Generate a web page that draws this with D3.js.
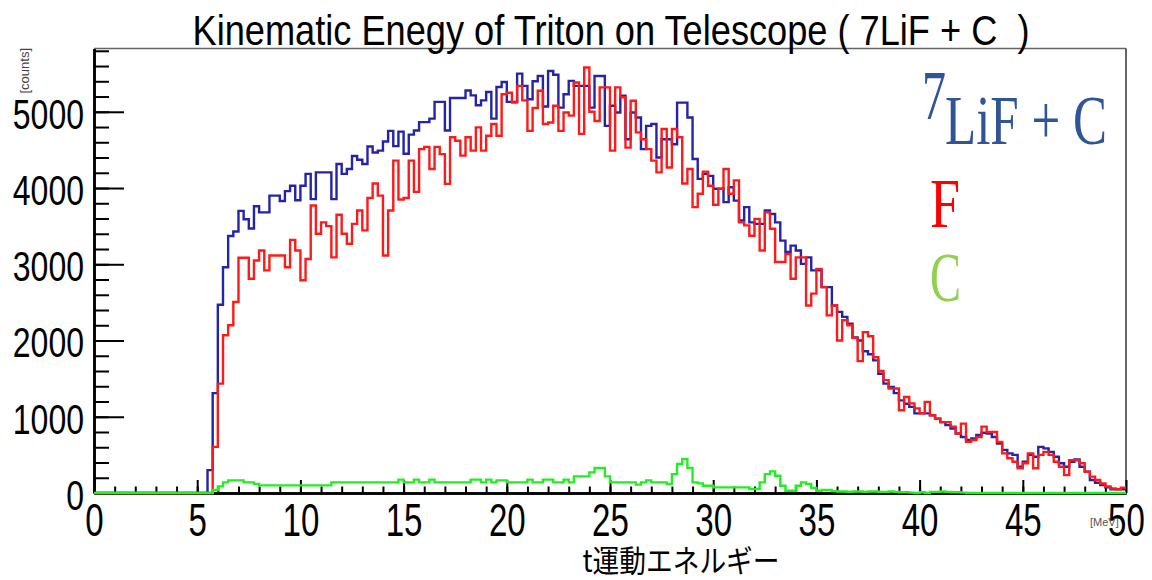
<!DOCTYPE html>
<html>
<head>
<meta charset="utf-8">
<script src="https://cdn.jsdelivr.net/npm/d3@7"></script>
<style>
  body { margin: 0; background: #fff; }
  svg { display: block; }
</style>
</head>
<body>
<div id="chart"></div>
<script>
(function () {

    // histogram binning: 200 bins of 0.25 MeV from 0 to 50
    var binLow = 0, binWidth = 0.25;

    // 7LiF + C (total), counts per bin
    var totalCounts = [
        0, 0, 0, 0, 0, 0, 0, 0, 0, 0, 0, 0, 0, 0, 0, 0, 0, 0, 0, 0,
        0, 0, 300, 1310, 2470, 2960, 3370, 3430, 3700, 3590, 3470, 3760, 3680, 3680, 3900, 3900, 3830, 3960, 4030, 3840,
        4030, 4185, 3855, 4205, 4205, 4205, 3855, 4315, 4185, 4250, 4420, 4370, 4315, 4545, 4465, 4490, 4610, 4750, 4550, 4740,
        4450, 4700, 4755, 4865, 4865, 4910, 5130, 5130, 4755, 5180, 5180, 5180, 5280, 5215, 5085, 5150, 5260, 4910, 5325, 5390,
        5130, 5130, 5500, 5340, 5165, 5400, 5470, 5070, 5535, 5485, 5055, 5230, 5405, 5340, 5340, 5340, 5055, 5470, 5470, 4815,
        5080, 4990, 5210, 4640, 4990, 4925, 4510, 4815, 4840, 4400, 4640, 4640, 4575, 5120, 5120, 4925, 4380, 4120, 4185, 4160,
        3990, 3990, 3815, 4010, 3835, 3575, 3750, 3550, 3530, 3530, 3705, 3660, 3550, 3310, 3160, 3245, 3180, 3005, 3090, 2920,
        2920, 2700, 2700, 2460, 2375, 2310, 2220, 2040, 2000, 1860, 1820, 1740, 1565, 1435, 1390, 1310, 1215, 1170, 1130, 1045,
        1045, 1045, 1020, 975, 930, 890, 845, 780, 735, 695, 715, 760, 790, 780, 735, 650, 565, 520, 500, 345,
        410, 500, 475, 605, 585, 540, 475, 390, 345, 410, 440, 345, 280, 170, 135, 105, 75, 50, 50, 50
    ];

    // F
    var fCounts = [
        0, 0, 0, 0, 0, 0, 0, 0, 0, 0, 0, 0, 0, 0, 0, 0, 0, 0, 0, 0,
        0, 0, 0, 605, 1435, 2070, 2200, 2505, 3085, 3085, 2810, 3050, 3180, 2920, 3115, 3115, 3115, 2960, 3320, 3180,
        2790, 3070, 3770, 3400, 3550, 3500, 3090, 3650, 3400, 3270, 3530, 3705, 3445, 3870, 4060, 3900, 3115, 3705, 4360, 3850,
        3870, 4360, 3950, 4510, 4540, 4250, 4540, 4445, 4055, 4665, 4620, 4425, 4665, 4490, 4795, 4490, 4685, 4840, 4685, 5230,
        5250, 5120, 5340, 5150, 4750, 5050, 5275, 4840, 4860, 5080, 4750, 4990, 4950, 5385, 4710, 5580, 5000, 4880, 5320, 5320,
        4490, 5320, 5190, 4530, 5145, 4730, 4640, 4510, 4360, 4205, 4775, 4270, 4775, 4665, 4060, 4250, 3750, 3925, 4215, 4030,
        3780, 3990, 4250, 3925, 4100, 3550, 3510, 3375, 3595, 3180, 3680, 3465, 3030, 3030, 3135, 2810, 3090, 3090, 2460, 2615,
        2940, 2700, 2330, 2460, 2000, 2265, 2200, 2035, 1730, 2110, 2055, 1780, 1600, 1480, 1370, 1370, 1085, 1260, 1175, 1110,
        1045, 1195, 1020, 975, 930, 930, 870, 780, 910, 670, 695, 735, 870, 800, 800, 670, 520, 455, 410, 325,
        390, 520, 325, 500, 540, 500, 410, 345, 235, 430, 430, 390, 280, 215, 170, 125, 85, 60, 50, 70
    ];

    // C
    var cCounts = [
        0, 0, 0, 0, 0, 0, 0, 0, 0, 0, 0, 0, 0, 0, 0, 0, 0, 0, 0, 0,
        0, 0, 0, 40, 87, 140, 165, 165, 165, 140, 140, 120, 100, 100, 100, 100, 100, 100, 100, 100,
        100, 100, 100, 100, 100, 100, 140, 140, 140, 140, 140, 140, 140, 140, 140, 140, 140, 140, 140, 175,
        140, 140, 175, 140, 140, 175, 140, 140, 140, 140, 140, 140, 140, 175, 175, 140, 175, 140, 165, 165,
        140, 140, 140, 140, 175, 140, 140, 175, 175, 140, 140, 175, 140, 218, 218, 218, 270, 327, 327, 218,
        140, 140, 140, 140, 140, 110, 140, 165, 140, 140, 140, 118, 248, 380, 445, 330, 140, 126, 96, 96,
        74, 74, 74, 74, 74, 74, 74, 52, 52, 140, 248, 283, 227, 96, 30, 30, 96, 140, 118, 65,
        30, 39, 39, 25, 20, 20, 15, 20, 20, 15, 20, 20, 15, 15, 20, 15, 10, 10, 5, 0,
        10, 0, 15, 15, 20, 15, 10, 10, 5, 0, 0, 0, 0, 0, 0, 0, 0, 0, 0, 0,
        0, 0, 0, 0, 0, 0, 0, 0, 0, 0, 0, 0, 0, 0, 0, 0, 0, 0, 0, 0
    ];

    var xMajorTicks = [0, 5, 10, 15, 20, 25, 30, 35, 40, 45, 50];
    var yMajorTicks = [0, 1000, 2000, 3000, 4000, 5000];

    var titleText = "Kinematic Enegy of Triton on Telescope ( 7LiF + C  )";
    var xTitleText = "t運動エネルギー";

    var W = 1152, H = 580;
    var margin = { left: 94, right: 26, top: 48.5, bottom: 87 };

    var svg = d3.select("#chart").append("svg")
        .attr("width", W)
        .attr("height", H);

    var x = d3.scaleLinear().domain([0, 50]).range([margin.left, W - margin.right]);
    var y = d3.scaleLinear().domain([0, 5830]).range([H - margin.bottom, margin.top]);

    var sans = "'Liberation Sans', Arial, Helvetica, sans-serif";
    var serif = "'Liberation Serif', 'Times New Roman', serif";

    //frame (top and right)
    svg.append("line")
        .attr("x1", x(0)).attr("x2", x(50))
        .attr("y1", y(5830)).attr("y2", y(5830))
        .attr("stroke", "#666").attr("stroke-width", 1.5);
    svg.append("line")
        .attr("x1", x(50)).attr("x2", x(50))
        .attr("y1", y(5830)).attr("y2", y(0))
        .attr("stroke", "#333").attr("stroke-width", 1.5);

    //y axis, ticks pointing inward
    var yAxis = svg.append("g")
        .attr("transform", "translate(" + x(0) + ",0)")
        .call(d3.axisLeft(y).tickValues(yMajorTicks).tickSizeInner(-30).tickSizeOuter(0)
            .tickPadding(10).tickFormat(d3.format("d")));
    svg.append("g")
        .attr("transform", "translate(" + x(0) + ",0)")
        .call(d3.axisLeft(y).tickValues(d3.range(200, 5801, 200)).tickSizeInner(-15).tickSizeOuter(0)
            .tickFormat(""));

    //x axis
    var xAxis = svg.append("g")
        .attr("transform", "translate(0," + y(0) + ")")
        .call(d3.axisBottom(x).tickValues(xMajorTicks).tickSizeInner(-13).tickSizeOuter(0)
            .tickPadding(10).tickFormat(d3.format("d")));
    svg.append("g")
        .attr("transform", "translate(0," + y(0) + ")")
        .call(d3.axisBottom(x).tickValues(d3.range(1, 50, 1)).tickSizeInner(-6.5).tickSizeOuter(0)
            .tickFormat(""));

    svg.selectAll(".domain").attr("stroke", "#000").attr("stroke-width", 2.5);
    svg.selectAll(".tick line").attr("stroke", "#000").attr("stroke-width", 2);

    yAxis.selectAll("text")
        .attr("dy", "0.38em")
        .style("font-family", sans)
        .style("font-size", "43px")
        .attr("fill", "#000")
        .attr("textLength", function (d) { return String(d).length * 17.8; })
        .attr("lengthAdjust", "spacingAndGlyphs");

    xAxis.selectAll("text")
        .style("font-family", sans)
        .style("font-size", "46px")
        .attr("fill", "#000")
        .attr("textLength", function (d) { return String(d).length * 18.4; })
        .attr("lengthAdjust", "spacingAndGlyphs");

    //histograms as step lines
    function binPoints(counts) {
        var pts = counts.map(function (v, i) {
            return { x0: binLow + i * binWidth, v: v };
        });
        pts.push({ x0: binLow + counts.length * binWidth, v: counts[counts.length - 1] });
        return pts;
    }

    var step = d3.line()
        .x(function (d) { return x(d.x0); })
        .y(function (d) { return y(d.v); })
        .curve(d3.curveStepAfter);

    var series = [
        { name: "total", counts: totalCounts, color: "#2424a8" },
        { name: "F", counts: fCounts, color: "#ff1a1a" },
        { name: "C", counts: cCounts, color: "#22ee22" }
    ];

    svg.selectAll("path.hist")
        .data(series)
        .enter().append("path")
        .attr("class", "hist")
        .attr("fill", "none")
        .attr("stroke", function (d) { return d.color; })
        .attr("stroke-width", 2.4)
        .attr("d", function (d) { return step(binPoints(d.counts)); });

    //title (keeps the double space before the closing bracket)
    svg.append("text")
        .attr("x", 611).attr("y", 45)
        .attr("text-anchor", "middle")
        .style("font-family", sans)
        .style("font-size", "43px")
        .style("white-space", "pre")
        .attr("textLength", 837)
        .attr("lengthAdjust", "spacingAndGlyphs")
        .text(titleText);

    //axis titles
    svg.append("text")
        .attr("x", 681).attr("y", 572)
        .attr("text-anchor", "middle")
        .style("font-family", "'Noto Sans CJK JP', sans-serif")
        .style("font-size", "31px")
        .attr("textLength", 197)
        .attr("lengthAdjust", "spacingAndGlyphs")
        .text(xTitleText);

    svg.append("text")
        .attr("transform", "translate(29,48) rotate(-90)")
        .attr("text-anchor", "end")
        .style("font-family", sans)
        .style("font-size", "13px")
        .attr("fill", "#444")
        .text("[counts]");

    svg.append("text")
        .attr("x", 1090).attr("y", 526)
        .style("font-family", sans)
        .style("font-size", "11px")
        .attr("fill", "#555")
        .text("[MeV]");

    //legend labels
    var legend = svg.append("g");
    legend.append("text")
        .attr("x", 922).attr("y", 119)
        .style("font-family", serif).style("font-size", "70px")
        .attr("fill", "#2f5597")
        .attr("textLength", 24).attr("lengthAdjust", "spacingAndGlyphs")
        .text("7");
    legend.append("text")
        .attr("x", 945).attr("y", 144)
        .style("font-family", serif).style("font-size", "70px")
        .attr("fill", "#2f5597")
        .attr("textLength", 162).attr("lengthAdjust", "spacingAndGlyphs")
        .text("LiF + C");
    legend.append("text")
        .attr("x", 930).attr("y", 227)
        .style("font-family", serif).style("font-size", "70px")
        .attr("fill", "#ff0000")
        .attr("textLength", 30).attr("lengthAdjust", "spacingAndGlyphs")
        .text("F");
    legend.append("text")
        .attr("x", 930).attr("y", 301)
        .style("font-family", serif).style("font-size", "70px")
        .attr("fill", "#92d050")
        .attr("textLength", 31).attr("lengthAdjust", "spacingAndGlyphs")
        .text("C");

})()
</script>
</body>
</html>
